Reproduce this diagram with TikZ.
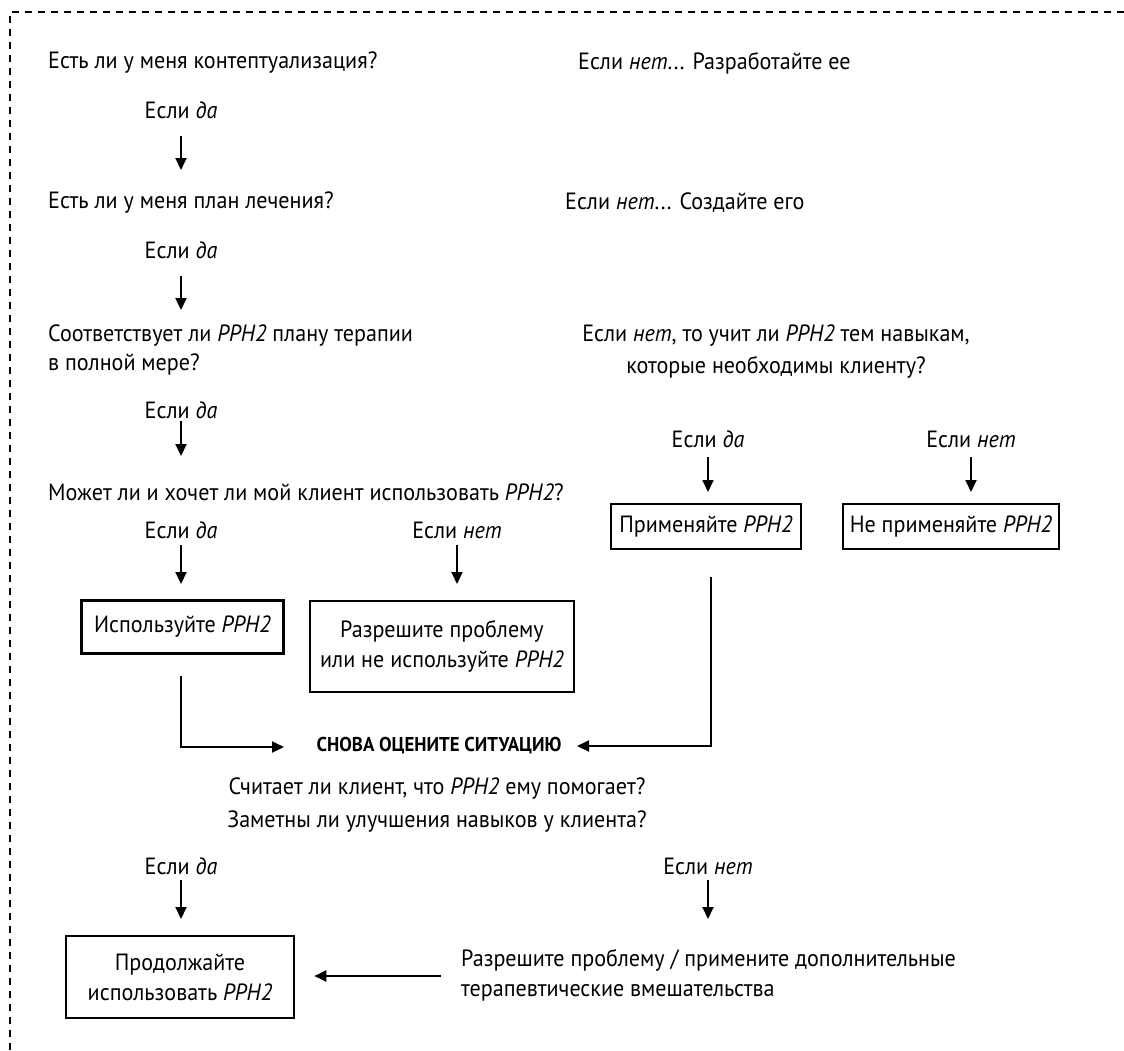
\documentclass[tikz,border=0pt]{standalone}
\usepackage{fontspec}
\setmainfont{PT Sans}[FakeStretch=0.94]
\usetikzlibrary{arrows.meta}
\begin{document}
\begin{tikzpicture}[x=1pt,y=-1pt,
  txt/.style={inner sep=0pt,font=\fontsize{23.5}{28}\selectfont},
  lt/.style={txt,anchor=west},
  ct/.style={txt,anchor=center,align=center},
  boxn/.style={draw,line width=2.6pt,inner sep=0pt,font=\fontsize{23.5}{30}\selectfont,align=center},
  arr/.style={line width=2pt,-{Triangle[length=12pt,width=11pt]}}]
\useasboundingbox (0,0) rectangle (1124,1050);
\draw[line width=2.6pt,dash pattern=on 7pt off 6pt] (10,1050) -- (10,12) -- (1124,12);

\node[lt] (q1) at (48,63) {Есть ли у меня контептуализация?};
\node[lt] (r1) at (578,63) {Если \textit{нет}... Разработайте ее};
\node[ct] (y1) at (181,110) {Если \textit{да}};
\coordinate (a1s) at (181,136); \coordinate (a1e) at (181,170);
\draw[arr] (a1s) -- (a1e);

\node[lt] (q2) at (48,203) {Есть ли у меня план лечения?};
\node[lt] (r2) at (565,203) {Если \textit{нет}... Создайте его};
\node[ct] (y2) at (181,250) {Если \textit{да}};
\coordinate (a2s) at (181,276); \coordinate (a2e) at (181,310);
\draw[arr] (a2s) -- (a2e);

\node[lt] (q3a) at (48,336) {Соответствует ли \textit{PPH2} плану терапии};
\node[lt] (q3b) at (48,364) {в полной мере?};
\node[ct] (r3a) at (776,336) {Если \textit{нет}, то учит ли \textit{PPH2} тем навыкам,};
\node[ct] (r3b) at (776,367) {которые необходимы клиенту?};
\node[ct] (y3) at (181,410) {Если \textit{да}};
\coordinate (a3s) at (181,421); \coordinate (a3e) at (181,456);
\draw[arr] (a3s) -- (a3e);

\node[lt] (q4) at (48,492) {Может ли и хочет ли мой клиент использовать \textit{PPH2}?};
\node[ct] (y4) at (181,530) {Если \textit{да}};
\node[ct] (n4) at (457,530) {Если \textit{нет}};
\coordinate (a4s) at (181,545); \coordinate (a4e) at (181,584);
\coordinate (a5s) at (457,545); \coordinate (a5e) at (457,584);
\draw[arr] (a4s) -- (a4e);
\draw[arr] (a5s) -- (a5e);

\node[ct] (ry) at (708,439) {Если \textit{да}};
\node[ct] (rn) at (971,439) {Если \textit{нет}};
\coordinate (a6s) at (708,457); \coordinate (a6e) at (708,492);
\coordinate (a7s) at (971,457); \coordinate (a7e) at (971,492);
\draw[arr] (a6s) -- (a6e);
\draw[arr] (a7s) -- (a7e);

\node[boxn,minimum width=202pt,minimum height=53pt] (b1) at (182.5,627) {Используйте \textit{PPH2}};
\node[boxn,minimum width=264pt,minimum height=91pt] (b2) at (442,646.5) {Разрешите проблему\\или не используйте \textit{PPH2}};
\node[boxn,minimum width=190pt,minimum height=45pt] (b3) at (706,526.5) {Применяйте \textit{PPH2}};
\node[boxn,minimum width=216pt,minimum height=45pt] (b4) at (951,526.5) {Не применяйте \textit{PPH2}};

\node[inner sep=0pt,font=\fontsize{20}{24}\selectfont\bfseries] (re) at (439,746) {СНОВА ОЦЕНИТЕ СИТУАЦИЮ};
\coordinate (l1s) at (181,676); \coordinate (l1c) at (181,747);
\coordinate (l2s) at (711,577); \coordinate (l2c) at (711,746);
\draw[arr] (l1s) -- (l1c) -- (284,747);
\draw[arr] (l2s) -- (l2c) -- (577,746);

\node[ct] (c1) at (437,789) {Считает ли клиент, что \textit{PPH2} ему помогает?};
\node[ct] (c2) at (437,822) {Заметны ли улучшения навыков у клиента?};

\node[ct] (y5) at (181,866) {Если \textit{да}};
\node[ct] (n5) at (708,866) {Если \textit{нет}};
\coordinate (a8s) at (181,880); \coordinate (a8e) at (181,919);
\coordinate (a9s) at (708,880); \coordinate (a9e) at (708,919);
\draw[arr] (a8s) -- (a8e);
\draw[arr] (a9s) -- (a9e);

\node[boxn,minimum width=228pt,minimum height=82pt] (b5) at (180,977) {Продолжайте\\использовать \textit{PPH2}};
\node[lt,align=left,font=\fontsize{23.5}{30}\selectfont] (f1) at (461,975) {Разрешите проблему / примените дополнительные\\терапевтические вмешательства};
\coordinate (a10s) at (441,976);
\draw[arr] (a10s) -- ([xshift=19pt]b5.east |- a10s);
\end{tikzpicture}
\end{document}
